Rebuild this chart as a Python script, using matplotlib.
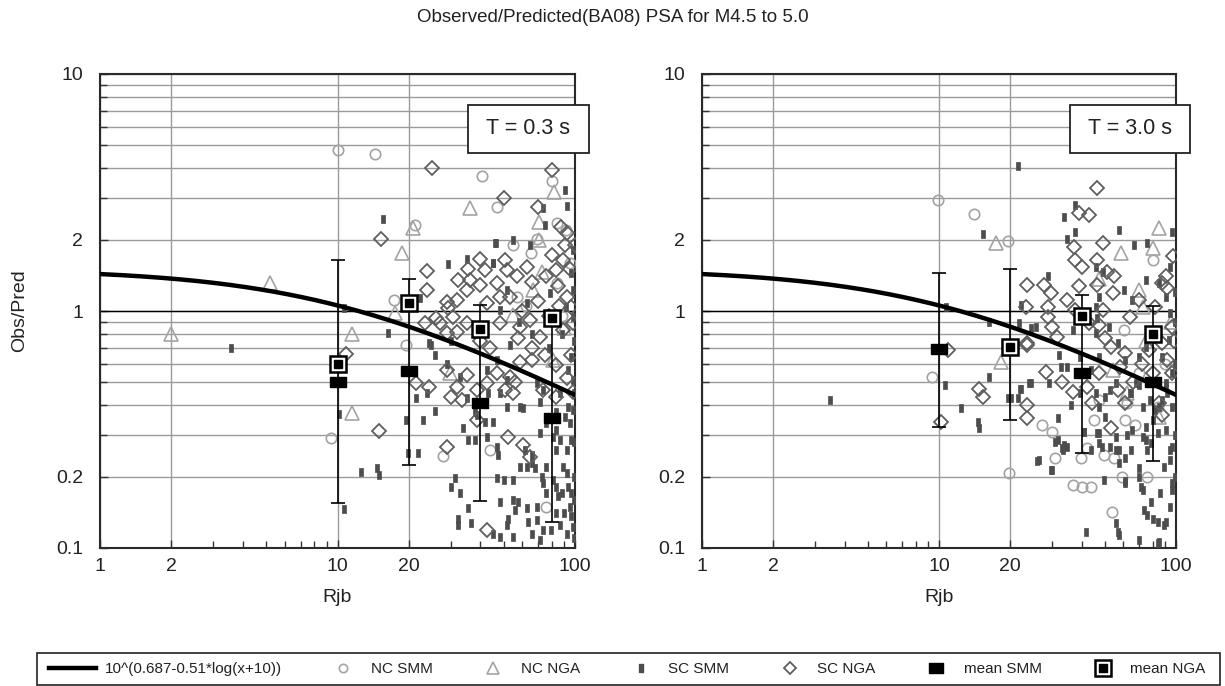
import numpy as np
import matplotlib
matplotlib.use("Agg")
import matplotlib.pyplot as plt
from matplotlib.lines import Line2D
from matplotlib.patches import Rectangle
from matplotlib.legend_handler import HandlerTuple, HandlerLine2D
from matplotlib.ticker import NullFormatter

plt.rcParams['font.family'] = ['Liberation Sans', 'DejaVu Sans']

TITLE = "Observed/Predicted(BA08) PSA for M4.5 to 5.0"
PERIODS = ["T = 0.3 s", "T = 3.0 s"]
CURVE_A = 0.687
CURVE_B = 0.51
CURVE_LABEL = "10^(0.687-0.51*log(x+10))"
SERIES_LABELS = ["NC SMM", "NC NGA", "SC SMM", "SC NGA", "mean SMM", "mean NGA"]
X_LABEL = "Rjb"
Y_LABEL = "Obs/Pred"
X_TICKS = [1, 2, 10, 20, 100]
Y_TICKS = [0.1, 0.2, 1, 2, 10]

# ---------------- Left panel (T = 0.3 s) ----------------
L_NC_SMM_X = [10, 14.4, 40.5, 46.8, 21.2, 80, 83.8, 9.4, 27.9, 19.5, 17.3, 43.8, 55, 69, 92, 56.9, 83.8, 75.8, 62, 88, 95, 65]
L_NC_SMM_Y = [4.77, 4.58, 3.71, 2.76, 2.3, 3.55, 2.34, 0.29, 0.245, 0.72, 1.11, 0.26, 1.9, 2.02, 2.2, 1.15, 1.31, 0.149, 1.05, 0.95, 1.6, 1.75]

L_NC_NGA_X = [2.0, 5.2, 11.5, 11.5, 18.6, 20.8, 36, 81.6, 70.5, 70.5, 72.3, 66.7, 17.4, 29.8, 55, 81, 90]
L_NC_NGA_Y = [0.8, 1.31, 0.8, 0.37, 1.75, 2.23, 2.73, 3.19, 2.38, 1.99, 1.46, 1.23, 0.98, 0.55, 0.96, 0.62, 0.85]

L_SC_SMM_X = [3.56, 10.7, 16.3, 15.6, 90.8, 92.2, 46.3, 54.6, 64.6, 29.2, 35, 45, 22.2, 24.2, 73.6, 74.6, 46, 45.3,
              51.5, 62.6, 78.4, 92, 98.5, 98, 48.4, 97.8, 96.6,
              10.1, 10.6, 12.5, 14.6, 15, 19.5, 19.9, 21.9, 22.9, 21.5, 23.7, 25.7, 25.7, 24.8, 28.9, 32.7, 30.1, 31.2,
              32.7, 32.3, 32.3, 33.8, 35.5, 35.5, 37.9, 36.6, 37.9, 41.8, 42.5, 45.3, 46.8, 47.5, 46.8, 48.4, 48.4, 45.3,
              50, 52.4, 51.5, 55, 55, 57.6, 56, 55, 62.6, 63.6, 62.6, 58.6, 65.7, 67.6, 68.9, 68.9, 71, 72.3, 73.6, 75.8,
              75.8, 81, 83.4, 85, 83.4, 86.6, 89.2, 92.2, 93.7, 96.6, 95.3, 96.6, 97.8, 92.2, 79.6, 73.6, 65.7,
              75.8, 81, 83.4, 86.6, 92.2, 96.6, 95.3, 98.5, 93.7, 83.4, 71, 65.7, 61.4, 58.6, 51.5, 60.2, 48.4, 43.2, 35,
              38.6, 68.9, 73.6, 86.6, 71, 83.4, 90.8, 96.6, 93.7, 98.5, 53.3, 46.8, 42.5, 51.5, 88, 78, 99, 66, 58, 38, 30,
              99, 99, 99, 99, 99, 88, 90]
L_SC_SMM_Y = [0.70, 1.03, 0.805, 2.44, 3.24, 2.78, 1.94, 1.99, 1.9, 1.58, 1.65, 1.6, 1.13, 0.735, 2.72, 2.3, 1.93, 1.59,
              1.23, 1.08, 1.19, 1.04, 1.23, 0.946, 1.01, 1.81, 1.45,
              0.368, 0.146, 0.21, 0.217, 0.203, 0.347, 0.251, 0.251, 0.347, 0.428, 0.45, 0.38, 0.652, 0.719, 0.6, 0.528, 0.181, 0.197,
              0.17, 0.133, 0.125, 0.32, 0.147, 0.286, 0.286, 0.127, 0.376, 0.34, 0.295, 0.34, 0.268, 0.247, 0.197, 0.157, 0.111, 0.115,
              0.194, 0.133, 0.125, 0.16, 0.194, 0.157, 0.145, 0.111, 0.147, 0.129, 0.22, 0.22, 0.228, 0.217, 0.149, 0.131, 0.108, 0.2, 0.188, 0.17,
              0.22, 0.194, 0.181, 0.165, 0.14, 0.125, 0.22, 0.207, 0.181, 0.17, 0.149, 0.136, 0.123, 0.115, 0.119, 0.119, 0.115,
              0.337, 0.295, 0.26, 0.286, 0.26, 0.286, 0.337, 0.382, 0.395, 0.315, 0.305, 0.247, 0.26, 0.395, 0.395, 0.39, 0.45, 0.45, 0.43,
              0.364, 0.496, 0.464, 0.45, 0.414, 0.376, 0.358, 0.641, 0.564, 0.512, 0.719, 0.62, 0.564, 0.512, 0.8, 0.7, 0.75, 0.8, 0.9, 0.8, 0.75,
              0.2, 0.16, 0.28, 0.45, 0.11, 0.17, 0.14]

L_SC_NGA_X = [15.3, 14.9, 25, 50.3, 80, 69.6, 23.8, 23.8, 39.8, 79.7, 92.2, 99.8, 87.6, 90.8, 50.8, 35.5, 32.3, 36.1, 41.8,
              39.8, 35, 46.8, 51.5, 48.4, 53.3, 56.9, 62.6, 65.7, 75.8, 83.4, 89.2, 95.3, 85, 92.2, 28.9, 31.7, 42.5, 30.7,
              35, 27, 23.4, 28.9, 31.7, 48.4, 58.6, 64.6, 57.6, 71, 89.2, 98.5, 96.6,
              28.9, 24.2, 21.5, 35, 31.7, 30.1, 33.3, 38.6, 42.5, 46.8, 50.8, 55, 55.8, 65.7, 58.6, 53.3, 73.6, 83.4, 83.4,
              92.2, 96.6, 98.5, 38.6, 52.4, 60.2, 64.6, 28.9, 42.5, 26.1, 29.2, 44, 40, 60, 70, 78, 86, 66, 75, 10.9]
L_SC_NGA_Y = [2.02, 0.313, 4.0, 3.01, 3.94, 2.76, 1.48, 1.23, 1.65, 1.72, 2.14, 1.9, 2.27, 1.9, 1.64, 1.51, 1.35, 1.35, 1.49,
              1.29, 1.23, 1.31, 1.49, 1.15, 1.15, 1.4, 1.54, 1.33, 1.4, 1.49, 1.64, 1.51, 1.27, 1.15, 1.09, 1.11, 1.08, 0.946,
              0.887, 0.887, 0.887, 0.805, 0.818, 0.887, 0.859, 0.916, 0.767, 0.779, 0.831, 0.887, 1.04,
              0.564, 0.48, 0.496, 0.537, 0.48, 0.435, 0.421, 0.464, 0.496, 0.546, 0.464, 0.45, 0.503, 0.62, 0.611, 0.528, 0.464, 0.435, 0.591,
              0.52, 0.652, 0.457, 0.347, 0.295, 0.272, 0.243, 0.268, 0.119, 0.93, 1.03, 0.7, 0.75, 1.0, 1.1, 0.95, 1.05, 0.7, 0.65, 0.66]

L_MEAN_X = [10, 20, 40, 80]
L_MEAN_SMM = [0.50, 0.56, 0.41, 0.355]
L_SMM_LO = [0.155, 0.225, 0.158, 0.129]
L_SMM_HI = [1.64, 1.36, 1.06, 0.98]
L_NGA_X = [10, 20, 40, 80]
L_MEAN_NGA = [0.60, 1.08, 0.84, 0.93]

# ---------------- Right panel (T = 3.0 s) ----------------
R_NC_SMM_X = [9.9, 14.1, 19.5, 9.3, 19.8, 27.3, 30.1, 31, 36.9, 40.2, 44, 39.6, 42.2, 49.6, 54.7, 53.9, 59.3, 75.2, 45.2,
              61.2, 67.4, 47.3, 83.6, 79.6, 60.3, 62.2, 90, 70]
R_NC_SMM_Y = [2.94, 2.56, 1.97, 0.528, 0.207, 0.33, 0.31, 0.239, 0.184, 0.181, 0.181, 0.239, 0.263, 0.247, 0.239, 0.142, 0.2, 0.2, 0.347,
              0.347, 0.33, 0.421, 0.395, 1.64, 0.83, 0.408, 0.6, 0.55]

R_NC_NGA_X = [17.4, 84.7, 58.4, 79.6, 47.3, 69.7, 72.3, 18.3, 54, 84.7, 62, 95, 75]
R_NC_NGA_Y = [1.93, 2.23, 1.75, 1.84, 1.37, 1.23, 1.04, 0.61, 0.564, 0.358, 0.45, 0.9, 0.75]

R_SC_SMM_X = [3.46, 21.5, 10.7, 15.4, 16.2, 10.6, 12.4, 14.6, 14.8, 16.2, 19.5, 21.5, 21.9, 23.9, 26.3, 30.1, 31, 32.9, 33.8,
              31.9, 35.9, 41, 41.9, 46.5, 48.9, 49.6, 50.3, 55.8, 56.7, 57.5, 61.2, 61.2, 65.3, 69.7, 70.9, 73.5, 75.2, 79.6,
              83.6, 90.4, 86, 89, 69.7, 84.7, 96.1, 96.1, 94.7, 75.2, 74.4, 79.6, 90.4, 87.7, 96.1, 90.4, 69.7, 63.8, 55.8,
              50.3, 43.8, 45.9, 26, 43.8, 55.8, 72.3, 81.9,
              37.6, 33.6, 37.6, 34.8, 57.5, 66.5, 96.1, 75.2, 94.7, 28.7, 49, 45.9, 60.3, 47.3, 24.5, 21.8, 25.7, 22.2, 32,
              34.8, 36.6, 45.9, 46.5, 45.9, 52, 65.3, 74.4, 84.7, 90.4, 94.7, 93.4, 87.7, 69.7, 61.2, 47.3, 56.7, 74.4, 81.9, 39.5,
              32.6, 29.1, 24.5, 22.2, 20.2, 39.5, 47.3, 52.6, 64.6, 68, 78, 85, 92, 96.1, 90.4, 74.4, 72.3, 78.4, 83.6, 96.1,
              94.7, 94.7, 89, 83.6, 78.4, 72.3, 69.7, 61.2, 57.5, 55.8, 52.6, 47.3, 57.5, 29.6, 33.3, 34.8, 31.9, 41, 47.3,
              62.2, 64.3, 99, 99, 99, 99, 99]
R_SC_SMM_Y = [0.421, 4.09, 1.04, 2.11, 0.9, 0.487, 0.389, 0.341, 0.32, 0.528, 0.428, 0.428, 0.467, 0.496, 0.235, 0.213, 0.281, 0.263, 0.272,
              0.352, 0.401, 0.31, 0.117, 0.305, 0.268, 0.194, 0.358, 0.127, 0.117, 0.26, 0.239, 0.191, 0.315, 0.217, 0.181, 0.145, 0.138, 0.133,
              0.129, 0.129, 0.17, 0.22, 0.108, 0.106, 0.188, 0.176, 0.26, 0.26, 0.286, 0.347, 0.315, 0.421, 0.395, 0.496, 0.487, 0.45, 0.496,
              0.435, 0.564, 0.45, 0.232, 0.26, 0.295, 0.395, 0.382,
              2.8, 2.5, 2.16, 2.02, 2.2, 1.9, 2.16, 1.93, 1.54, 1.4, 1.46, 1.54, 1.23, 1.15, 0.845, 0.887, 0.859, 1.06, 0.652,
              0.582, 0.831, 1.04, 0.931, 0.805, 0.86, 1.11, 1.35, 1.31, 1.15, 0.978, 0.755, 0.641, 0.641, 0.62, 0.641, 0.731, 0.707, 0.805, 0.641,
              0.582, 0.496, 0.496, 0.47, 0.428, 0.45, 0.395, 0.464, 0.45, 0.496, 0.42, 0.395, 0.45, 0.546, 0.48, 0.325, 0.295, 0.277, 0.305, 0.268,
              0.235, 0.149, 0.125, 0.105, 0.157, 0.176, 0.2, 0.188, 0.228, 0.26, 0.268, 0.277, 0.113, 0.213, 0.26, 0.268, 0.286, 0.31, 0.305,
              0.3, 0.26, 0.3, 0.2, 0.6, 0.9, 1.2]

R_SC_NGA_X = [46.5, 38.9, 42.9, 10.9, 10.2, 14.8, 15.3, 23.6, 23.6, 28.2, 33, 36.6, 44.4, 53.1, 61.2, 47.3, 56.7, 84.7, 87.7,
              96, 23.6, 42.2, 49, 46.5, 37.6, 40.2, 37, 51.4, 55, 23.6, 27.7, 29.6, 28.7, 23.3, 28.7, 30.1, 31.4, 23.6, 39,
              34.8, 37.6, 42.9, 47.3, 50.3, 53, 46.5, 49, 54.1, 61.2, 69.7, 81.9, 90.4, 87.7, 92, 96.1, 87.7, 91.7, 76.8, 72,
              63.8, 58, 66, 80, 98, 97]
R_SC_NGA_Y = [3.29, 2.58, 2.54, 0.684, 0.341, 0.47, 0.435, 0.401, 0.352, 0.555, 0.503, 0.457, 0.408, 0.32, 0.408, 0.546, 0.464, 0.408, 0.364,
              0.546, 0.719, 0.48, 1.93, 1.64, 1.64, 1.54, 1.87, 1.46, 1.4, 1.29, 1.29, 1.19, 1.04, 1.04, 0.946, 0.859, 0.779, 0.731, 1.27,
              1.11, 1.01, 0.887, 0.87, 0.767, 0.707, 1.29, 1.01, 1.19, 0.663, 1.11, 1.04, 1.4, 1.31, 1.25, 0.859, 0.731, 0.62, 0.684, 0.6,
              0.946, 0.58, 0.5, 0.55, 0.75, 1.7]

R_MEAN_X = [10, 20, 40, 80]
R_MEAN_SMM = [0.69, 0.72, 0.546, 0.50]
R_SMM_LO = [0.325, 0.346, 0.251, 0.233]
R_SMM_HI = [1.45, 1.51, 1.165, 1.05]
R_NGA_X = [20, 40, 80]
R_MEAN_NGA = [0.707, 0.955, 0.80]

# ---------------- styling ----------------
W, H = 1225, 686
fig = plt.figure(figsize=(W / 100, H / 100), dpi=100)

C_NC = "#a3a3a3"
C_SC_SMM = "#4d4d4d"
C_SC_NGA = "#5e5e5e"
SMM_MARK = [(-0.55, -1), (0.55, -1), (0.55, 1), (-0.55, 1), (-0.55, -1)]
MEAN_MARK = [(-1, -0.7), (1, -0.7), (1, 0.7), (-1, 0.7), (-1, -0.7)]

panels = [
    dict(rect=(100, 74, 575, 548), label=PERIODS[0], box=(468, 105, 589, 153),
         ncs=(L_NC_SMM_X, L_NC_SMM_Y), ncn=(L_NC_NGA_X, L_NC_NGA_Y), scs=(L_SC_SMM_X, L_SC_SMM_Y),
         scn=(L_SC_NGA_X, L_SC_NGA_Y), mx=L_MEAN_X, smm=L_MEAN_SMM, lo=L_SMM_LO, hi=L_SMM_HI,
         nx=L_NGA_X, nga=L_MEAN_NGA, ylabel=True),
    dict(rect=(702, 74, 1176, 548), label=PERIODS[1], box=(1070, 105, 1190, 153),
         ncs=(R_NC_SMM_X, R_NC_SMM_Y), ncn=(R_NC_NGA_X, R_NC_NGA_Y), scs=(R_SC_SMM_X, R_SC_SMM_Y),
         scn=(R_SC_NGA_X, R_SC_NGA_Y), mx=R_MEAN_X, smm=R_MEAN_SMM, lo=R_SMM_LO, hi=R_SMM_HI,
         nx=R_NGA_X, nga=R_MEAN_NGA, ylabel=False),
]

x_curve = np.logspace(0, 2, 300)
y_curve = 10 ** (CURVE_A - CURVE_B * np.log10(x_curve + 10))

for p in panels:
    x0, y0, x1, y1 = p["rect"]
    ax = fig.add_axes([x0 / W, 1 - y1 / H, (x1 - x0) / W, (y1 - y0) / H])
    ax.set_xscale("log")
    ax.set_yscale("log")
    ax.set_xlim(1, 100)
    ax.set_ylim(0.1, 10)

    ax.set_xticks(X_TICKS)
    ax.set_xticklabels([str(v) for v in X_TICKS])
    ax.set_xticks([3, 4, 5, 6, 7, 8, 9, 30, 40, 50, 60, 70, 80, 90], minor=True)
    ax.xaxis.set_minor_formatter(NullFormatter())
    ax.set_yticks(Y_TICKS)
    ax.set_yticklabels([("%g" % v) for v in Y_TICKS])
    ax.set_yticks([0.3, 0.4, 0.5, 0.6, 0.7, 0.8, 0.9, 3, 4, 5, 6, 7, 8, 9], minor=True)
    ax.yaxis.set_minor_formatter(NullFormatter())

    ax.grid(True, axis="x", which="major", color="#9a9a9a", lw=1.0)
    ax.grid(True, axis="y", which="both", color="#9a9a9a", lw=1.0)
    ax.set_axisbelow(True)
    ax.axhline(1, color="black", lw=1.0, zorder=1.5)

    ax.tick_params(which="both", direction="in", top=False, right=False, colors="#333333",
                   labelcolor="#222222", labelsize=14)
    ax.tick_params(which="major", length=6, width=1)
    ax.tick_params(which="minor", length=5, width=1)
    ax.tick_params(axis="y", which="major", pad=12)
    ax.tick_params(axis="x", which="major", pad=7)
    for s in ax.spines.values():
        s.set_color("#2a2a2a")
        s.set_linewidth(1.5)

    ax.plot(*p["ncs"], ls="none", marker="o", ms=7.5, mfc="none", mec=C_NC, mew=1.2, zorder=3)
    ax.plot(*p["ncn"], ls="none", marker="^", ms=10, mfc="none", mec=C_NC, mew=1.2, zorder=3)
    ax.plot(*p["scs"], ls="none", marker=SMM_MARK, ms=5.5, mfc=C_SC_SMM, mec=C_SC_SMM, mew=0.5, zorder=3.2)
    ax.plot(*p["scn"], ls="none", marker="D", ms=7, mfc="none", mec=C_SC_NGA, mew=1.3, zorder=3.4)

    ax.plot(x_curve, y_curve, color="black", lw=3.2, zorder=4)

    smm = np.array(p["smm"])
    ax.errorbar(p["mx"], smm, yerr=[smm - np.array(p["lo"]), np.array(p["hi"]) - smm], fmt="none",
                ecolor="black", elinewidth=1.2, capsize=5, capthick=1.2, zorder=5)
    ax.plot(p["mx"], smm, ls="none", marker=MEAN_MARK, ms=11, mfc="black", mec="black", zorder=6)
    ax.plot(p["nx"], p["nga"], ls="none", marker="s", ms=12, mfc="white", mec="black", mew=1.8, zorder=7)
    ax.plot(p["nx"], p["nga"], ls="none", marker="s", ms=5.5, mfc="black", mec="black", zorder=8)

    ax.set_xlabel(X_LABEL, fontsize=14, color="#222222", labelpad=10)
    if p["ylabel"]:
        ax.set_ylabel(Y_LABEL, fontsize=14, color="#222222", labelpad=20)

    bx0, by0, bx1, by1 = p["box"]
    fig.add_artist(Rectangle((bx0 / W, 1 - by1 / H), (bx1 - bx0) / W, (by1 - by0) / H,
                             transform=fig.transFigure, facecolor="white", edgecolor="#222222", lw=1.3, zorder=10))
    fig.text((bx0 + bx1) / 2 / W, 1 - (by0 + by1) / 2 / H, p["label"], ha="center", va="center",
             fontsize=15.5, color="#222222", zorder=11)

fig.text(0.5, 1 - 18 / H, TITLE, ha="center", va="center", fontsize=13.5, color="#222222")


class LongLineHandler(HandlerLine2D):
    """Line sample that reaches further left than the common handle length."""
    def get_xdata(self, legend, xdescent, ydescent, width, height, fontsize):
        extra = 0.7 * fontsize
        xs = np.array([-xdescent - extra, width - xdescent])
        return xs, xs


# legend box (drawn separately so the long line sample sits inside it)
fig.add_artist(Rectangle((37 / W, 1 - 685 / H), (1220 - 37) / W, (685 - 653) / H,
                         transform=fig.transFigure, facecolor="white", edgecolor="#222222", lw=1.2, zorder=0.5))

line_handle = Line2D([], [], color="black", lw=3.2)
handles = [
    line_handle,
    Line2D([], [], ls="none", marker="o", ms=6, mfc="none", mec=C_NC, mew=1.2),
    Line2D([], [], ls="none", marker="^", ms=9, mfc="none", mec=C_NC, mew=1.2),
    Line2D([], [], ls="none", marker=SMM_MARK, ms=5.5, mfc=C_SC_SMM, mec=C_SC_SMM),
    Line2D([], [], ls="none", marker="D", ms=6.5, mfc="none", mec=C_SC_NGA, mew=1.3),
    Line2D([], [], ls="none", marker=MEAN_MARK, ms=10, mfc="black", mec="black"),
    (Line2D([], [], ls="none", marker="s", ms=12, mfc="white", mec="black", mew=1.8),
     Line2D([], [], ls="none", marker="s", ms=5.5, mfc="black", mec="black")),
]
labels = [CURVE_LABEL] + SERIES_LABELS
leg = fig.legend(handles, labels, loc="center left", ncol=7, mode="expand",
                 bbox_to_anchor=(45 / W, 1 - 669 / H, (1220 - 45) / W, 0.0),
                 frameon=False, fontsize=11,
                 handlelength=2.4, handletextpad=0.6, columnspacing=1.5, borderpad=0.45,
                 handler_map={tuple: HandlerTuple(ndivide=1), line_handle: LongLineHandler()})
for t in leg.get_texts():
    t.set_color("#222222")

fig.savefig("out.png", dpi=100)
